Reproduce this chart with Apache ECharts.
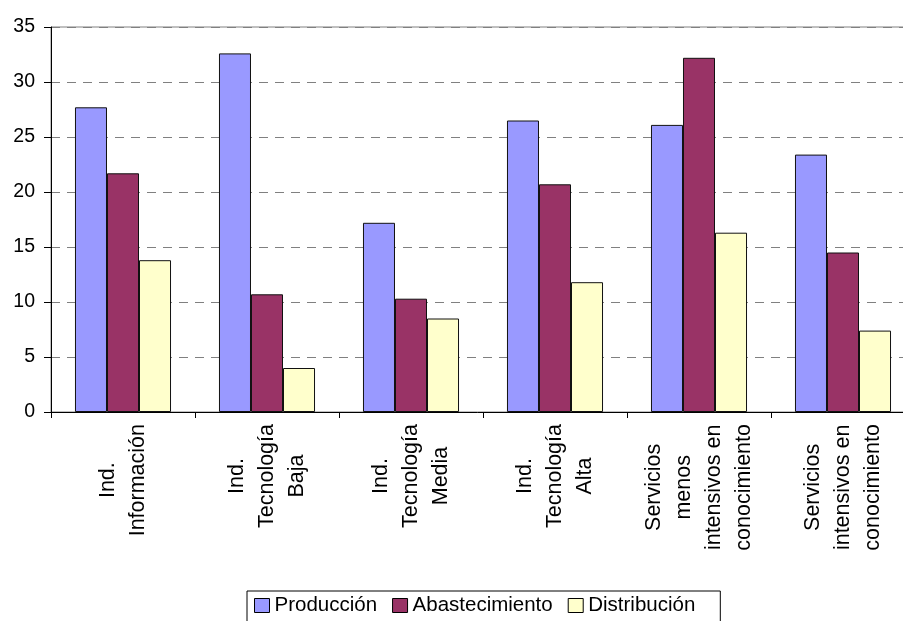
<!DOCTYPE html>
<html>
<head>
<meta charset="utf-8">
<script src="https://cdn.jsdelivr.net/npm/echarts@6/dist/echarts.min.js"></script>
<style>
  html, body { margin: 0; padding: 0; background: #ffffff; }
  #chart { width: 903px; height: 621px; }
</style>
</head>
<body>
<div id="chart"></div>
<script>
// Sector categories (each entry is the list of lines of its axis label)
const categories = [
  ['Ind.', 'Información'],
  ['Ind.', 'Tecnología', 'Baja'],
  ['Ind.', 'Tecnología', 'Media'],
  ['Ind.', 'Tecnología', 'Alta'],
  ['Servicios', 'menos', 'intensivos en', 'conocimiento'],
  ['Servicios', 'intensivos en', 'conocimiento']
];

const produccion     = [27.7, 32.6, 17.2, 26.5, 26.1, 23.4];
const abastecimiento = [21.7, 10.7, 10.3, 20.7, 32.2, 14.5];
const distribucion   = [13.8, 4.0, 8.5, 11.8, 16.3, 7.4];

const seriesNames = ['Producción', 'Abastecimiento', 'Distribución'];
const yTicks = [0, 5, 10, 15, 20, 25, 30, 35];

const FONT = "'Liberation Sans', Arial, sans-serif";
const colors = ['#9999FF', '#993366', '#FFFFCC'];

const chart = echarts.init(document.getElementById('chart'), null, { renderer: 'canvas' });

const barStyle = (color) => ({
  color: color,
  borderColor: '#111111',
  borderWidth: 1
});

chart.setOption({
  animation: false,
  backgroundColor: '#ffffff',
  textStyle: { fontFamily: FONT, color: '#000000' },
  grid: {
    left: 51,
    width: 864,
    top: 27,
    height: 385,
    outerBoundsMode: 'none',
    containLabel: false,
    show: true,
    borderColor: '#808080',
    borderWidth: 1,
    backgroundColor: 'transparent'
  },
  legend: {
    data: seriesNames,
    left: 247,
    top: 591,
    orient: 'horizontal',
    padding: [4, 25, 14, 7],
    itemGap: 15,
    itemWidth: 15,
    itemHeight: 14,
    borderColor: '#000000',
    borderWidth: 1,
    backgroundColor: '#ffffff',
    icon: 'rect',
    itemStyle: { borderColor: '#000000', borderWidth: 1 },
    textStyle: { fontFamily: FONT, fontSize: 20.5, color: '#000000' }
  },
  xAxis: {
    type: 'category',
    data: categories.map(lines => lines.join('\n')),
    boundaryGap: true,
    axisLine: { show: true, lineStyle: { color: '#000000', width: 1 } },
    axisTick: { show: true, length: 6, lineStyle: { color: '#000000' } },
    splitLine: { show: false },
    axisLabel: {
      interval: 0,
      rotate: 90,
      margin: 12,
      formatter: (value) => value.split('\n').map(l => '{c|' + l + '}').join('\n'),
      rich: {
        c: {
          align: 'center',
          fontFamily: FONT,
          fontSize: 21.5,
          lineHeight: 30,
          color: '#000000'
        }
      }
    }
  },
  yAxis: {
    type: 'value',
    min: yTicks[0],
    max: yTicks[yTicks.length - 1],
    interval: 5,
    axisLine: { show: true, lineStyle: { color: '#000000', width: 1 } },
    axisTick: { show: true, length: 7, lineStyle: { color: '#000000' } },
    axisLabel: {
      margin: 16,
      fontFamily: FONT,
      fontSize: 19.5,
      color: '#000000'
    },
    splitLine: {
      show: true,
      lineStyle: { color: '#808080', width: 1, type: [9, 7] }
    }
  },
  series: [
    {
      name: seriesNames[0],
      type: 'bar',
      data: produccion,
      barGap: '0%',
      barCategoryGap: '33.3%',
      itemStyle: barStyle(colors[0])
    },
    {
      name: seriesNames[1],
      type: 'bar',
      data: abastecimiento,
      barGap: '0%',
      barCategoryGap: '33.3%',
      itemStyle: barStyle(colors[1])
    },
    {
      name: seriesNames[2],
      type: 'bar',
      data: distribucion,
      barGap: '0%',
      barCategoryGap: '33.3%',
      itemStyle: barStyle(colors[2])
    }
  ]
});
</script>
</body>
</html>
